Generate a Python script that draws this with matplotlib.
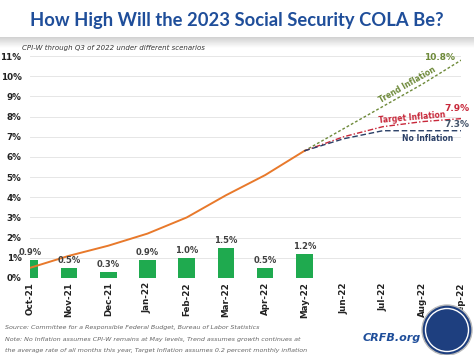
import matplotlib
matplotlib.use("Agg")
import matplotlib.pyplot as plt
from matplotlib.patches import Ellipse
import numpy as np

months = ["Oct-21", "Nov-21", "Dec-21", "Jan-22", "Feb-22", "Mar-22",
          "Apr-22", "May-22", "Jun-22", "Jul-22", "Aug-22", "Sep-22"]

# monthly CPI-W change (bars), Oct-21 .. May-22
monthly = [0.9, 0.5, 0.3, 0.9, 1.0, 1.5, 0.5, 1.2]
# cumulative COLA estimate (orange line), Oct-21 .. May-22
cola = [0.5, 1.1, 1.6, 2.2, 3.0, 4.1, 5.1, 6.3]
# scenarios May-22 .. Sep-22
trend = [6.3, 7.4, 8.5, 9.6, 10.8]
target = [6.3, 7.0, 7.5, 7.75, 7.9]
no_infl = [6.3, 6.9, 7.3, 7.3, 7.3]

TITLE_BLUE = "#1F4E9A"
GREEN_BAR = "#1FAA4F"
ORANGE = "#E8792B"
TREND_C = "#6E8A3A"
TARGET_C = "#C8283A"
NOINF_C = "#2A3F66"

fig = plt.figure(figsize=(4.74, 3.55), dpi=100)
fig.patch.set_facecolor("white")

# grey shading band under the title
band = fig.add_axes([0, 0.865, 1, 0.03])
band.imshow(np.linspace(0.82, 1.0, 50).reshape(-1, 1), cmap="gray",
            aspect="auto", vmin=0, vmax=1, extent=[0, 1, 0, 1])
band.axis("off")

fig.text(0.5, 0.942, "How High Will the 2023 Social Security COLA Be?",
         ha="center", va="center", fontsize=13.2, fontweight="bold",
         color=TITLE_BLUE, family="Lato")

ax = fig.add_axes([0.063, 0.217, 0.910, 0.625])
x = np.arange(len(months))

ax.bar(x[:len(monthly)], monthly, width=0.42, color=GREEN_BAR, zorder=2)
for xi, v in zip(x, monthly):
    ax.text(xi, v + 0.15, f"{v:.1f}%", ha="center", va="bottom",
            fontsize=6, fontweight="bold", color="#404040", zorder=4)

ax.plot(x[:len(cola)], cola, color=ORANGE, lw=1.4, zorder=3)
xs = x[len(cola) - 1:]
ax.plot(xs, trend, color=TREND_C, lw=1.0, ls=(0, (2, 1.5)), zorder=3)
ax.plot(xs, target, color=TARGET_C, lw=1.0, ls=(0, (4, 1.5, 1, 1.5)), zorder=3)
ax.plot(xs, no_infl, color=NOINF_C, lw=1.0, ls=(0, (4, 2)), zorder=3)

ax.text(10.45, 10.95, "10.8%", color=TREND_C, fontsize=6.5,
        fontweight="bold", ha="center", va="center")
ax.text(9.62, 9.55, "Trend Inflation", color=TREND_C, fontsize=5.5,
        fontweight="bold", ha="center", va="center", rotation=30)
ax.text(9.74, 7.95, "Target Inflation", color=TARGET_C, fontsize=5.5,
        fontweight="bold", ha="center", va="center", rotation=5)
ax.text(10.9, 8.4, "7.9%", color=TARGET_C, fontsize=6.5,
        fontweight="bold", ha="center", va="center")
ax.text(10.9, 7.6, "7.3%", color="#44546A", fontsize=6.5,
        fontweight="bold", ha="center", va="center")
ax.text(10.15, 6.93, "No Inflation", color=NOINF_C, fontsize=5.5,
        fontweight="bold", ha="center", va="center")

ax.set_xlim(0, 11)
ax.set_ylim(0, 11)
ax.set_yticks(range(0, 12))
ax.set_yticklabels([f"{i}%" for i in range(0, 12)])
ax.set_xticks(x)
ax.set_xticklabels(months, rotation=90)
ax.tick_params(axis="both", length=0, labelsize=6.3, colors="#222222")
ax.tick_params(axis="y", pad=6)
ax.tick_params(axis="x", pad=3)
for lbl in ax.get_xticklabels() + ax.get_yticklabels():
    lbl.set_fontweight("bold")
ax.grid(axis="y", color="#E6E6E6", lw=0.7, zorder=0)
for s in ax.spines.values():
    s.set_visible(False)
ax.axhline(0, color="#D9D9D9", lw=0.7, zorder=1)

fig.text(0.047, 0.865, "CPI-W through Q3 of 2022 under different scenarios",
         fontsize=5, style="italic", color="#333333", va="center")

foot = ["Source: Committee for a Responsible Federal Budget, Bureau of Labor Statistics",
        "Note: No Inflation assumes CPI-W remains at May levels, Trend assumes growth continues at",
        "the average rate of all months this year, Target Inflation assumes 0.2 percent monthly inflation"]
for i, line in enumerate(foot):
    fig.text(0.01, 0.077 - i * 0.032, line, fontsize=4.6, style="italic",
             color="#666666", va="center")

fig.text(0.887, 0.048, "CRFB.org", fontsize=8, fontweight="bold",
         style="italic", color=TITLE_BLUE, ha="right", va="center")
cx, cy = 447 / 474, 1 - 330 / 355
fig.patches.append(Ellipse((cx, cy), 50 / 474, 50 / 355,
                           transform=fig.transFigure, facecolor="#1E3F7F",
                           edgecolor="#BBBBBB", lw=1.0, zorder=5))
fig.patches.append(Ellipse((cx, cy), 43 / 474, 43 / 355,
                           transform=fig.transFigure, facecolor="none",
                           edgecolor="white", lw=1.0, zorder=6))

fig.savefig("out.png", dpi=100)
